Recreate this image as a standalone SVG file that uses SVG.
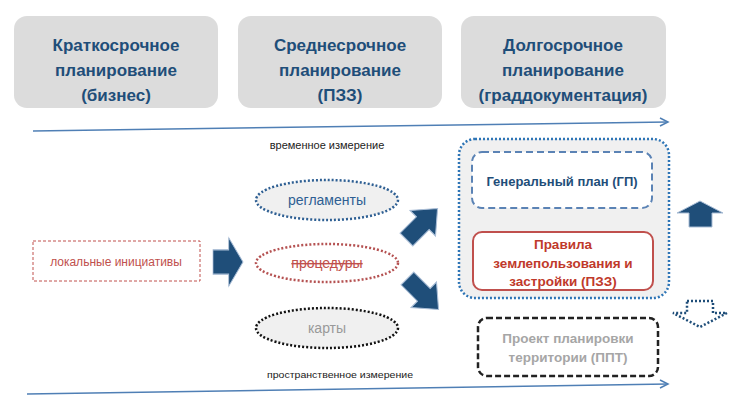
<svg xmlns="http://www.w3.org/2000/svg" width="735" height="407" viewBox="0 0 735 407">
<style>
.hdr{fill:#dcdcdc}
.ht{font-family:"Liberation Sans",Arial,sans-serif;font-weight:bold;font-size:17px;fill:#1f4e79;text-anchor:middle}
.sm{font-family:"Liberation Sans",Arial,sans-serif;fill:#222;text-anchor:middle}
.axis{stroke:#4f7fb5;stroke-width:1.5;fill:none}
.blk{fill:#1f4e79;stroke:#a9bdd6;stroke-width:1}
.et{font-family:"Liberation Sans",Arial,sans-serif;text-anchor:middle}
.bt{font-family:"Liberation Sans",Arial,sans-serif;font-weight:bold;text-anchor:middle}
</style>
<defs>
<path id="blockArrow" d="M-20,-9 L1,-9 L1,-18 L20,0 L1,18 L1,9 L-20,9 Z"/>
</defs>
<g id="short-term">
<rect class="hdr" x="14" y="16" width="204" height="92" rx="13"/>
<text class="ht" x="116" y="51">Краткосрочное</text>
<text class="ht" x="116" y="76">планирование</text>
<text class="ht" x="116" y="101">(бизнес)</text>
</g>
<g id="mid-term">
<rect class="hdr" x="238" y="16" width="204" height="92" rx="13"/>
<text class="ht" x="340" y="51">Среднесрочное</text>
<text class="ht" x="340" y="76">планирование</text>
<text class="ht" x="340" y="101">(ПЗЗ)</text>
</g>
<g id="long-term">
<rect class="hdr" x="461" y="16" width="205" height="92" rx="13"/>
<text class="ht" x="563" y="51">Долгосрочное</text>
<text class="ht" x="563" y="76">планирование</text>
<text class="ht" x="563" y="101">(граддокументация)</text>
</g>
<g id="connectors">
<path class="axis" d="M33,131 L668,122"/>
<path class="axis" d="M660,118 L668,122 L660,126"/>
<path class="axis" d="M27,394 L668,384"/>
<path class="axis" d="M660,380 L668,384 L660,388"/>
<use href="#blockArrow" class="blk" transform="translate(228,262) scale(0.75,1.35)"/>
<use href="#blockArrow" class="blk" transform="translate(422,224) rotate(-45) scale(1.1,1)"/>
<use href="#blockArrow" class="blk" transform="translate(423,294) rotate(45) scale(1.1,1)"/>
<path class="blk" d="M700,201 L723,213 L712,213 L712,227 L689,227 L689,213 L677,213 Z"/>
<path d="M687,301 L713,301 L713,313 L727,313 L700,327 L673,313 L687,313 Z" fill="none" stroke="#1f4e79" stroke-width="2.5" stroke-dasharray="2,2"/>
</g>
<text class="sm" x="327" y="149" style="font-size:11px">временное  измерение</text>
<text class="sm" x="340" y="378" style="font-size:9.5px" textLength="146" lengthAdjust="spacingAndGlyphs">пространственное измерение</text>
<g id="local">
<rect x="33" y="241" width="167" height="40" fill="#fff" stroke="#c0504d" stroke-width="1" stroke-dasharray="3,2"/>
<text class="et" x="116" y="266" style="font-size:12px" fill="#c0504d">локальные инициативы</text>
</g>
<g id="reglamenty">
<ellipse cx="327" cy="200" rx="71" ry="20" fill="#f0f0f0" stroke="#2e5f93" stroke-width="2.5" stroke-dasharray="2,2"/>
<text class="et" x="327" y="205" style="font-size:14px" fill="#2e5f93">регламенты</text>
</g>
<g id="procedury">
<ellipse cx="327" cy="263" rx="71" ry="19" fill="#fff" stroke="#b55252" stroke-width="2.5" stroke-dasharray="2,2"/>
<text class="et" x="327" y="268" style="font-size:14px" fill="#c0504d" text-decoration="line-through">процедуры</text>
</g>
<g id="karty">
<ellipse cx="327" cy="328" rx="71" ry="20" fill="#f0f0f0" stroke="#111" stroke-width="2.5" stroke-dasharray="2,2"/>
<text class="et" x="327" y="333" style="font-size:14px" fill="#999">карты</text>
</g>
<g id="docs">
<rect x="459" y="139" width="210" height="159" rx="16" fill="#f0f0f0" stroke="#2e75b6" stroke-width="2.5" stroke-dasharray="2,2"/>
</g>
<g id="gp">
<rect x="472" y="152" width="180" height="56" rx="10" fill="#fff" stroke="#5b83b5" stroke-width="2" stroke-dasharray="7,4"/>
<text class="bt" x="562" y="186" style="font-size:13px" fill="#1f4e79">Генеральный план (ГП)</text>
</g>
<g id="pzz">
<rect x="473" y="232" width="180" height="58" rx="9" fill="#fff" stroke="#c0504d" stroke-width="2"/>
<text class="bt" x="563" y="249" style="font-size:13.5px" fill="#c0392b">Правила</text>
<text class="bt" x="563" y="268" style="font-size:13.5px" fill="#c0392b">землепользования и</text>
<text class="bt" x="563" y="286" style="font-size:13.5px" fill="#c0392b">застройки (ПЗЗ)</text>
</g>
<g id="ppt">
<rect x="478" y="318" width="180" height="58" rx="9" fill="#fff" stroke="#222" stroke-width="2.5" stroke-dasharray="6,3"/>
<text class="bt" x="568" y="343" style="font-size:13.5px" fill="#a6a6a6">Проект планировки</text>
<text class="bt" x="568" y="362" style="font-size:13.5px" fill="#a6a6a6">территории (ППТ)</text>
</g>
</svg>
